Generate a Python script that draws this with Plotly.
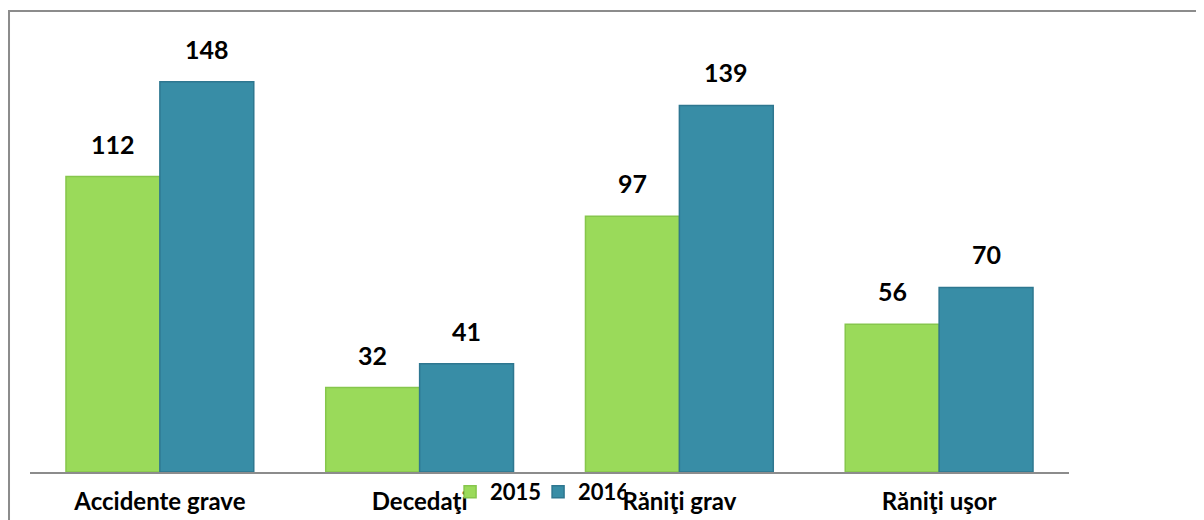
import plotly.graph_objects as go

categories = ["Accidente grave", "Decedaţi", "Răniţi grav", "Răniţi uşor"]
series_names = ["2015", "2016"]
values_2015 = [112, 32, 97, 56]
values_2016 = [148, 41, 139, 70]

colors = {"2015": "#9ADA5A", "2016": "#388DA6"}
edge = {"2015": "#86C64C", "2016": "#2E7790"}

FONT = "Lato"
BAR_HALF_PX = 47

fig = go.Figure()
annotations = []
for i, (name, vals) in enumerate(zip(series_names, [values_2015, values_2016])):
    fig.add_trace(go.Bar(
        x=categories, y=vals, name=name,
        marker=dict(color=colors[name], line=dict(color=edge[name], width=1.5)),
        cliponaxis=False,
    ))
    shift = -BAR_HALF_PX if i == 0 else BAR_HALF_PX
    for c, v in zip(categories, vals):
        annotations.append(dict(
            x=c, y=v, xref="x", yref="y", text=str(v), showarrow=False,
            xshift=shift, yshift=33, yanchor="middle",
            font=dict(family=FONT, size=25, color="black", weight=700),
        ))

fig.update_layout(
    width=1196, height=512,
    margin=dict(l=22, r=135, t=42, b=48, autoexpand=False),
    paper_bgcolor="white", plot_bgcolor="white",
    barmode="group", bargap=0.277, bargroupgap=0,
    showlegend=True,
    legend=dict(orientation="h", x=0.489, xanchor="center", y=-0.047, yanchor="middle",
                font=dict(family=FONT, size=22, color="black", weight=700),
                bgcolor="rgba(0,0,0,0)", tracegroupgap=0,
                entrywidth=43, entrywidthmode="pixels"),
    xaxis=dict(showline=True, linecolor="#8C8C8C", linewidth=2, showgrid=False,
               automargin=False,
               ticks="outside", ticklen=7, tickcolor="rgba(0,0,0,0)",
               tickfont=dict(family=FONT, size=24, color="black", weight=700)),
    yaxis=dict(range=[0, 160], visible=False, showgrid=False, automargin=False),
    annotations=annotations,
    shapes=[dict(type="rect", xref="paper", yref="paper",
                 x0=-0.0202, x1=1.5, y0=-0.5, y1=1.0924,
                 line=dict(color="#8C8C8C", width=2), layer="below")],
)

fig.write_html("out.html")
